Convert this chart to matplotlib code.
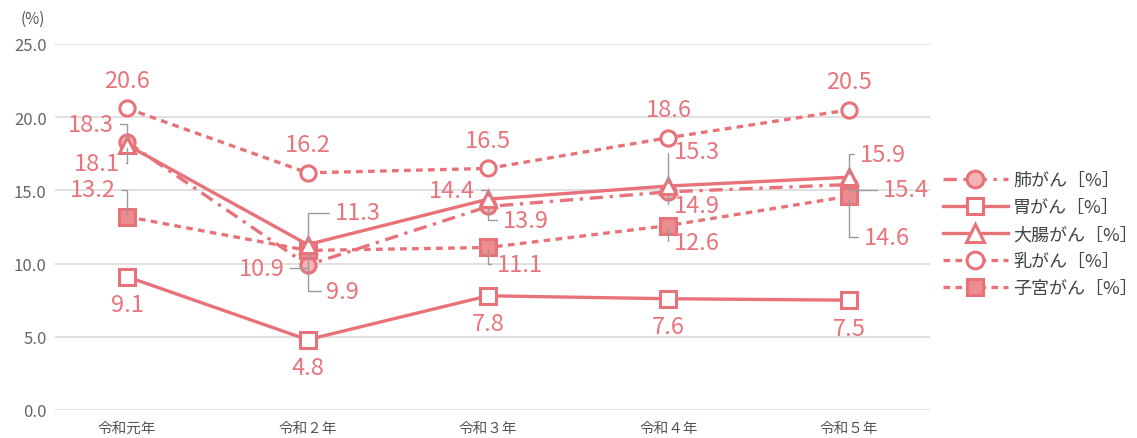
import matplotlib
matplotlib.use('Agg')
import matplotlib.pyplot as plt
from matplotlib import font_manager

plt.rcParams['font.family'] = ['Noto Sans CJK JP', 'DejaVu Sans']

installed = {f.name for f in font_manager.fontManager.ttflist}
num_font = 'Liberation Sans Narrow' if 'Liberation Sans Narrow' in installed else 'Noto Sans CJK JP'

years = ['令和元年', '令和２年', '令和３年', '令和４年', '令和５年']
lung = [18.3, 9.9, 13.9, 14.9, 15.4]
stomach = [9.1, 4.8, 7.8, 7.6, 7.5]
colon = [18.1, 11.3, 14.4, 15.3, 15.9]
breast = [20.6, 16.2, 16.5, 18.6, 20.5]
uterus = [13.2, 10.9, 11.1, 12.6, 14.6]

c = '#E8727A'
lab_c = '#E8747C'
lead_c = '#9A9A9A'

fig = plt.figure(figsize=(11.37, 4.39), dpi=100)
ax = fig.add_axes([0.0484, 0.0638, 0.7696, 0.8337])
x = list(range(len(years)))

lw = 2.4
ms = 11
mew = 2.2
ax.plot(x, lung, color=c, lw=lw, ls=(0, (4, 2, 1, 2)), marker='o', ms=ms,
        mfc='#F4B3B5', mec=c, mew=mew, label='肺がん［%］', zorder=5)
ax.plot(x, stomach, color=c, lw=lw, ls='-', marker='s', ms=ms,
        mfc='white', mec=c, mew=mew, label='胃がん［%］', zorder=5)
ax.plot(x, colon, color=c, lw=lw, ls='-', marker='^', ms=ms + 1,
        mfc='white', mec=c, mew=mew, label='大腸がん［%］', zorder=6)
ax.plot(x, breast, color=c, lw=lw, ls=(0, (2, 1.6)), marker='o', ms=ms,
        mfc='white', mec=c, mew=mew, label='乳がん［%］', zorder=5)
ax.plot(x, uterus, color=c, lw=lw, ls=(0, (2, 1.6)), marker='s', ms=ms,
        mfc='#EC8C8F', mec=c, mew=mew, label='子宮がん［%］', zorder=5)

ax.set_xlim(-0.4, 4.45)
ax.set_ylim(0, 25)
ax.set_yticks([0, 5, 10, 15, 20, 25])
ax.set_yticklabels(['%.1f' % v for v in [0, 5, 10, 15, 20, 25]],
                   fontsize=12, color='#666666', family=num_font)
ax.set_xticks(x)
ax.set_xticklabels(years, fontsize=10.5, color='#555555')
ax.tick_params(length=0, pad=8)
ax.tick_params(axis='y', pad=6)
for s in ax.spines.values():
    s.set_visible(False)
ax.grid(axis='y', color='#DADADA', lw=1.2)
ax.set_axisbelow(True)
fig.text(0.018, 0.945, '(%)', fontsize=11, color='#555555')


def lab(xi, v, dx, dy, leader=False):
    kw = dict(textcoords='offset pixels', ha='center', va='center',
              fontsize=17, color=lab_c, family=num_font, zorder=8)
    if leader:
        kw['arrowprops'] = dict(arrowstyle='-', color=lead_c, lw=1,
                                connectionstyle='angle,angleA=0,angleB=90,rad=0',
                                shrinkA=2, shrinkB=2)
    ax.annotate('%.1f' % v, xy=(xi, v), xytext=(dx, dy), **kw)


# labels above / below
for i, v in enumerate(breast):
    lab(i, v, 0, 28)
for i, v in enumerate(stomach):
    lab(i, v, 0, -28)

# labels with leader lines
lab(0, lung[0], -36, 18, True)
lab(0, colon[0], -30, -18, True)
lab(0, uterus[0], -34, 27, True)
lab(1, colon[1], 50, 32, True)
lab(1, uterus[1], -46, -18, True)
lab(1, lung[1], 35, -26, True)
lab(2, colon[2], -36, 9, True)
lab(2, lung[2], 38, -14, True)
lab(2, uterus[2], 32, -17, True)
lab(3, colon[3], 28, 35, True)
lab(3, lung[3], 28, -14, True)
lab(3, uterus[3], 28, -17, True)
lab(4, colon[4], 34, 23, True)
lab(4, lung[4], 57, -5, True)
lab(4, uterus[4], 38, -41, True)

leg = ax.legend(loc='center left', bbox_to_anchor=(1.0, 0.48), frameon=False,
                fontsize=13, handlelength=3.6, labelspacing=0.5,
                handletextpad=0.3, borderaxespad=0.3, markerscale=1.1)
for t in leg.get_texts():
    t.set_color('#444444')

fig.savefig('out.png', dpi=100)
